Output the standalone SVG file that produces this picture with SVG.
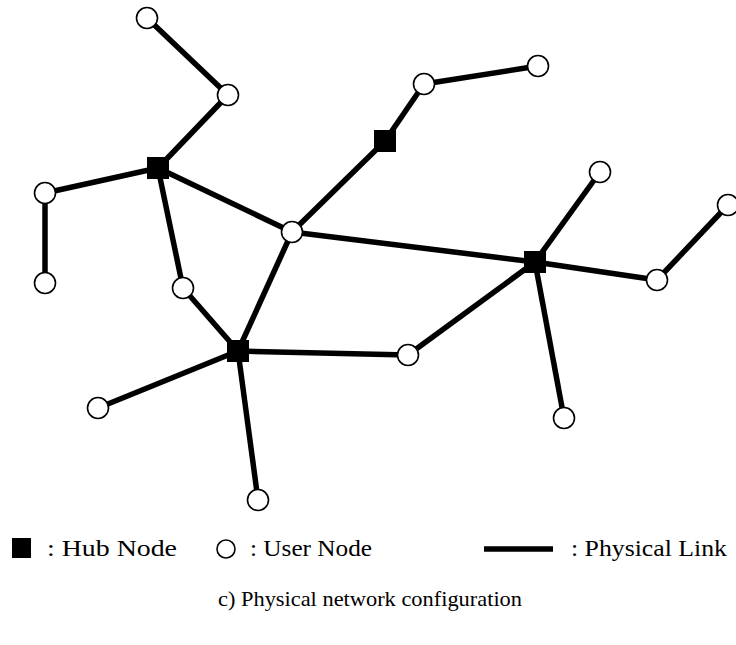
<svg xmlns="http://www.w3.org/2000/svg" width="736" height="645" viewBox="0 0 736 645">
<style>
.link{stroke:#000;stroke-width:5.5;stroke-linecap:butt;fill:none}
.user{fill:#fff;stroke:#000;stroke-width:1.6}
.hub{fill:#000}
.lbl{font-family:"Liberation Serif","Times New Roman",serif;font-size:23px;fill:#000}
.cap{font-family:"Liberation Serif","Times New Roman",serif;font-size:22px;fill:#000}
</style>
<rect width="736" height="645" fill="#fff"/>
<g id="connectors">
<line class="link" x1="147" y1="18" x2="228" y2="95"/>
<line class="link" x1="228" y1="95" x2="158" y2="168"/>
<line class="link" x1="158" y1="168" x2="45" y2="193"/>
<line class="link" x1="45" y1="193" x2="45" y2="283"/>
<line class="link" x1="158" y1="168" x2="183" y2="288"/>
<line class="link" x1="158" y1="168" x2="292" y2="232"/>
<line class="link" x1="183" y1="288" x2="238" y2="351"/>
<line class="link" x1="292" y1="232" x2="238" y2="351"/>
<line class="link" x1="292" y1="232" x2="385" y2="141"/>
<line class="link" x1="385" y1="141" x2="424" y2="84"/>
<line class="link" x1="424" y1="84" x2="538" y2="66"/>
<line class="link" x1="292" y1="232" x2="535" y2="262"/>
<line class="link" x1="535" y1="262" x2="600" y2="172"/>
<line class="link" x1="535" y1="262" x2="657" y2="280"/>
<line class="link" x1="657" y1="280" x2="728" y2="205"/>
<line class="link" x1="535" y1="262" x2="408" y2="355"/>
<line class="link" x1="535" y1="262" x2="564" y2="418"/>
<line class="link" x1="408" y1="355" x2="238" y2="351"/>
<line class="link" x1="238" y1="351" x2="98" y2="408"/>
<line class="link" x1="238" y1="351" x2="258" y2="500"/>
</g>
<g id="hub1"><rect class="hub" x="147" y="157" width="22" height="22"/></g>
<g id="hub2"><rect class="hub" x="374" y="130" width="22" height="22"/></g>
<g id="hub3"><rect class="hub" x="524" y="251" width="22" height="22"/></g>
<g id="hub4"><rect class="hub" x="227" y="340" width="22" height="22"/></g>
<g id="userA"><circle class="user" cx="147" cy="18" r="10.5"/></g>
<g id="userB"><circle class="user" cx="228" cy="95" r="10.5"/></g>
<g id="userC"><circle class="user" cx="45" cy="193" r="10.5"/></g>
<g id="userD"><circle class="user" cx="45" cy="283" r="10.5"/></g>
<g id="userE"><circle class="user" cx="183" cy="288" r="10.5"/></g>
<g id="userF"><circle class="user" cx="292" cy="232" r="10.5"/></g>
<g id="userG"><circle class="user" cx="424" cy="84" r="10.5"/></g>
<g id="userH"><circle class="user" cx="538" cy="66" r="10.5"/></g>
<g id="userI"><circle class="user" cx="600" cy="172" r="10.5"/></g>
<g id="userJ"><circle class="user" cx="728" cy="205" r="10.5"/></g>
<g id="userK"><circle class="user" cx="657" cy="280" r="10.5"/></g>
<g id="userL"><circle class="user" cx="408" cy="355" r="10.5"/></g>
<g id="userM"><circle class="user" cx="98" cy="408" r="10.5"/></g>
<g id="userN"><circle class="user" cx="258" cy="500" r="10.5"/></g>
<g id="userO"><circle class="user" cx="564" cy="418" r="10.5"/></g>
<g id="legend">
<rect class="hub" x="12" y="538" width="19" height="20"/>
<text class="lbl" x="47" y="556" textLength="130" lengthAdjust="spacingAndGlyphs">: Hub Node</text>
<circle class="user" cx="226" cy="549" r="9"/>
<text class="lbl" x="250" y="556" textLength="122" lengthAdjust="spacingAndGlyphs">: User Node</text>
<line class="link" x1="484" y1="549" x2="553" y2="549"/>
<text class="lbl" x="571" y="556" textLength="156" lengthAdjust="spacingAndGlyphs">: Physical Link</text>
<text class="cap" x="218" y="606" textLength="304" lengthAdjust="spacingAndGlyphs">c) Physical network configuration</text>
</g>
</svg>
